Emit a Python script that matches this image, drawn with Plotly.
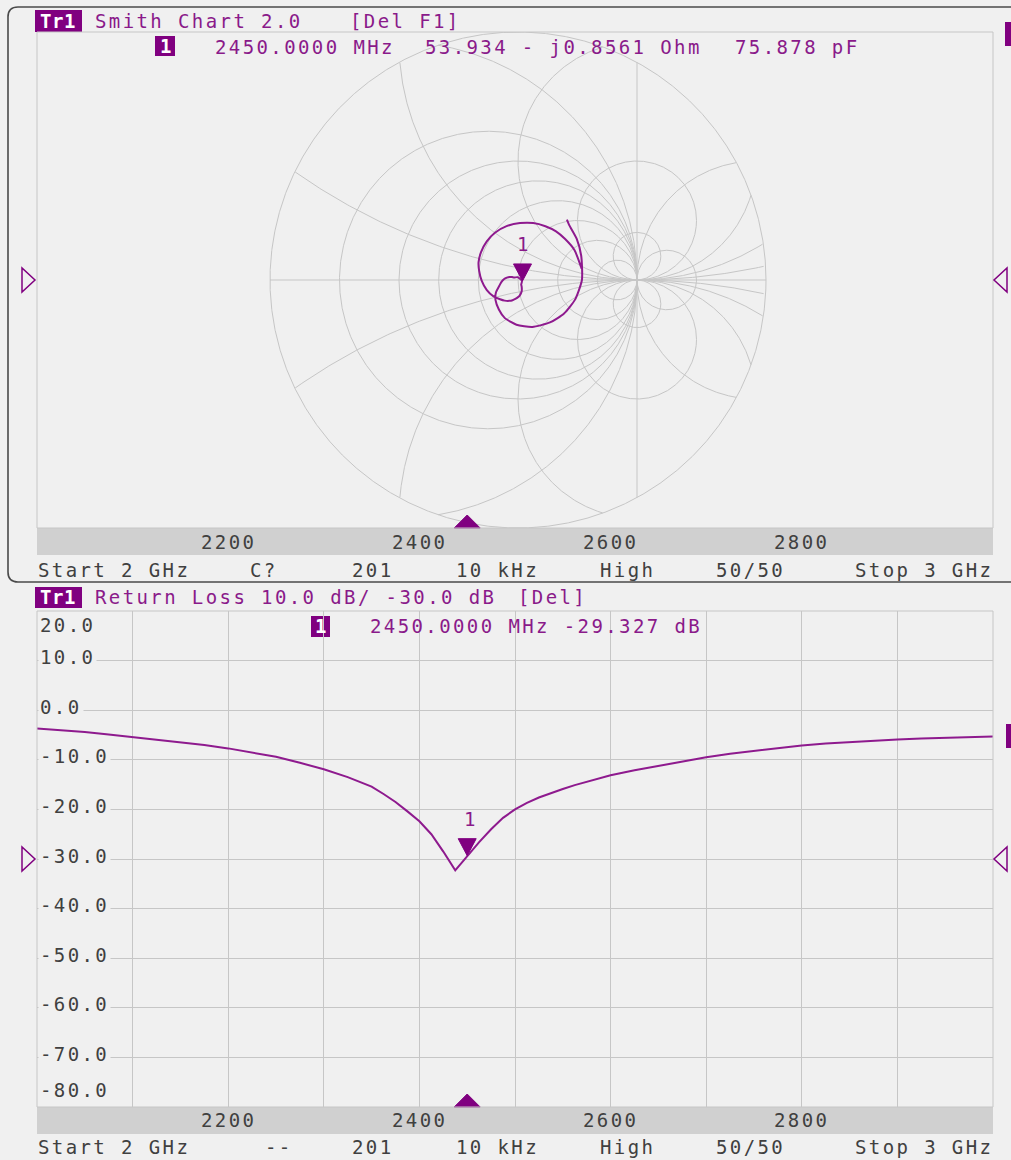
import numpy as np
import plotly.graph_objects as go

W, H = 1011, 1160

# ---------------- S11 trace data (Tr1) ----------------
freq_mhz = [2000, 2025, 2050, 2075, 2100, 2125, 2150, 2175, 2200, 2225, 2250, 2275,
            2300, 2325, 2350,
            2362.5, 2375, 2387.5, 2400, 2412.5, 2425, 2437.5, 2450, 2462.5, 2475,
            2487.5, 2500, 2512.5, 2525, 2537.5, 2550, 2562.5, 2575, 2587.5,
            2600, 2625, 2650, 2675, 2700, 2725, 2750, 2775, 2800, 2825, 2850,
            2875, 2900, 2925, 2950, 2975, 3000]

s11_db = [-3.7, -4.0, -4.4, -4.9, -5.4, -5.9, -6.4, -7.0, -7.7, -8.5, -9.4, -10.6,
          -11.9, -13.5, -15.4,
          -16.9, -18.5, -20.4, -22.4, -25.0, -28.5, -32.3, -29.33, -26.6, -24.0,
          -21.7, -20.0, -18.7, -17.6, -16.7, -15.9, -15.1, -14.4, -13.7,
          -13.1, -12.1, -11.2, -10.3, -9.5, -8.8, -8.2, -7.6, -7.1, -6.7, -6.4,
          -6.1, -5.9, -5.7, -5.6, -5.4, -5.3]

s11_phase_deg = [51, 47, 35, 21, 0, -19, -36, -53, -73, -92, -109, -123,
                 -138, -151, -161,
                 -172, 177, 168, 160, 154, 147, 100, -12, -55, -61,
                 -67, -72, -78, -84, -91, -98, -105, -113, -123,
                 -133, -147, -162, -179, 167, 156, 143, 129, 116, 102, 88,
                 75, 63, 52, 41, 28, 10]

# marker 1 readouts
marker_freq_mhz = 2450.0
marker_r_ohm = 53.934
marker_x_ohm = -0.8561
marker_c_pf = 75.878
marker_db = -29.327
z0_ohm = 50.0

stim_ticks = [2200, 2400, 2600, 2800]
db_ticks = [20, 10, 0, -10, -20, -30, -40, -50, -60, -70, -80]

# Smith grid values
r_circles = [0, 0.2, 0.5, 1, 2, 5, -0.2, -0.5, -2, -5]
x_circles = [0.2, 0.5, 1, 2, 5]

# ---------------- styling / geometry ----------------
BG = "#f0f0f0"
GRID = "#c6c6c6"
BAND = "#d0d0d0"
PURPLE = "#800080"
TRACE = "#8e1a8e"
TXT_P = "#8a1a8a"
TXT_G = "#404040"
FONT = "DejaVu Sans Mono"
FS = 19
LS = 2.4

PX_L, PX_R = 37, 993
TOP_Y0, TOP_Y1 = 32, 528
BOT_Y0, BOT_Y1 = 611, 1107
BAND_H = 27
SMITH_CX, SMITH_CY = 518, 280
SMITH_UNIT = 119.0          # pixels per unit reflection coefficient
R_OUT = (TOP_Y1 - TOP_Y0) / 2 / SMITH_UNIT


def px(x):
    return x / W


def py(y):
    return 1 - y / H


def spaced(s, ls=LS):
    return f'<span style="letter-spacing:{ls}px">{s}</span>'


annotations = []
shapes = []


def text(s, x, y, color, anchor="left", size=FS, bg=None, ls=LS, bold=False):
    a = dict(text=spaced(f"<b>{s}</b>" if bold else s, ls), x=px(x), y=py(y),
             xref="paper", yref="paper", xanchor=anchor, yanchor="middle",
             showarrow=False, font=dict(family=FONT, size=size, color=color))
    if bg:
        a.update(bgcolor=bg, borderpad=1)
    annotations.append(a)


def rect(x0, y0, x1, y1, fill=None, line=None, lw=1):
    shapes.append(dict(type="rect", xref="paper", yref="paper",
                       x0=px(x0), x1=px(x1), y0=py(y1), y1=py(y0),
                       fillcolor=fill or "rgba(0,0,0,0)",
                       line=dict(color=line or "rgba(0,0,0,0)", width=lw if line else 0),
                       layer="below" if fill and not line else "above"))


def poly(points, fill=None, line=None, lw=1.5):
    d = "M " + " L ".join(f"{px(a):.6f},{py(b):.6f}" for a, b in points) + " Z"
    shapes.append(dict(type="path", xref="paper", yref="paper", path=d,
                       fillcolor=fill or "rgba(0,0,0,0)",
                       line=dict(color=line or "rgba(0,0,0,0)", width=lw if line else 0)))


# ---------------- figure ----------------
fig = go.Figure()

# Smith chart grid
gu, gv = [], []


def add_circle(cu, cv, rad, n=1400):
    t = np.linspace(0, 2 * np.pi, n)
    u = cu + rad * np.cos(t)
    v = cv + rad * np.sin(t)
    out = np.hypot(u, v) > R_OUT + 1e-9
    u = u.astype(object)
    v = v.astype(object)
    u[out] = None
    v[out] = None
    gu.extend(list(u) + [None])
    gv.extend(list(v) + [None])


for r in r_circles:
    add_circle(r / (1 + r), 0.0, abs(1 / (1 + r)))
for xv in x_circles:
    add_circle(1.0, 1 / xv, 1 / xv)
    add_circle(1.0, -1 / xv, 1 / xv)
# r = -1 degenerates into the line Re(G) = 1, plus the real axis and outer rim
lim = np.sqrt(R_OUT ** 2 - 1)
gu.extend([1, 1, None, -R_OUT, R_OUT, None])
gv.extend([-lim, lim, None, 0, 0, None])
add_circle(0, 0, R_OUT)

fig.add_trace(go.Scatter(x=gu, y=gv, mode="lines", line=dict(color=GRID, width=1),
                         hoverinfo="skip", xaxis="x", yaxis="y"))

# S11 on the Smith chart
mag = 10 ** (np.array(s11_db) / 20)
ph = np.deg2rad(np.array(s11_phase_deg))
gamma = mag * np.exp(1j * ph)
fig.add_trace(go.Scatter(x=gamma.real, y=gamma.imag, mode="lines",
                         line=dict(color=TRACE, width=2, shape="spline", smoothing=0.6),
                         hoverinfo="skip", xaxis="x", yaxis="y"))

# Return loss trace
fig.add_trace(go.Scatter(x=freq_mhz, y=s11_db, mode="lines",
                         line=dict(color=TRACE, width=2), hoverinfo="skip",
                         xaxis="x2", yaxis="y2"))

# marker 1 positions
zm = complex(marker_r_ohm, marker_x_ohm)
gm = (zm - z0_ohm) / (zm + z0_ohm)
tri_down = "M -9,17 L 9,17 L 0,0 Z"
shapes.append(dict(type="path", xref="x", yref="y", xsizemode="pixel", ysizemode="pixel",
                   xanchor=gm.real, yanchor=gm.imag, path=tri_down,
                   fillcolor=PURPLE, line=dict(color=PURPLE, width=1)))
annotations.append(dict(text="1", x=gm.real, y=gm.imag, xref="x", yref="y",
                        yshift=37, showarrow=False,
                        font=dict(family=FONT, size=FS, color=TXT_P)))
shapes.append(dict(type="path", xref="x2", yref="y2", xsizemode="pixel", ysizemode="pixel",
                   xanchor=marker_freq_mhz, yanchor=marker_db, path=tri_down,
                   fillcolor=PURPLE, line=dict(color=PURPLE, width=1)))
annotations.append(dict(text="1", x=marker_freq_mhz, y=marker_db, xref="x2", yref="y2",
                        yshift=37, xshift=2, showarrow=False,
                        font=dict(family=FONT, size=FS, color=TXT_P)))

# stimulus markers on the frequency bands
tri_up = "M -13,0 L 13,0 L 0,13 Z"
for band_top in (TOP_Y1, BOT_Y1):
    shapes.append(dict(type="path", xref="x2", yref="paper", xsizemode="pixel",
                       ysizemode="pixel", xanchor=marker_freq_mhz, yanchor=py(band_top),
                       path=tri_up, fillcolor=PURPLE, line=dict(color=PURPLE, width=1)))

# plot frames and frequency bands
for y0, y1 in ((TOP_Y0, TOP_Y1), (BOT_Y0, BOT_Y1)):
    rect(PX_L, y1, PX_R, y1 + BAND_H, fill=BAND)
    rect(PX_L, y0, PX_R, y1, line=GRID, lw=1)

# active-channel window outline (rounded)
ox0, oy0, oy1, ox1, rr = 8, 7, 582, 1016, 10
outline = (f"M {px(ox1)},{py(oy0)} L {px(ox0 + rr)},{py(oy0)} "
           f"Q {px(ox0)},{py(oy0)} {px(ox0)},{py(oy0 + rr)} "
           f"L {px(ox0)},{py(oy1 - rr)} Q {px(ox0)},{py(oy1)} {px(ox0 + rr)},{py(oy1)} "
           f"L {px(ox1)},{py(oy1)}")
shapes.append(dict(type="path", xref="paper", yref="paper", path=outline,
                   line=dict(color="#4a4a4a", width=1.6)))

# reference level arrows
for yc in (SMITH_CY, BOT_Y0 + (BOT_Y1 - BOT_Y0) * (20 - (-30)) / 100):
    poly([(22, yc - 12), (22, yc + 12), (35, yc)], line=PURPLE, lw=1.5)
    poly([(1007, yc - 12), (1007, yc + 12), (994, yc)], line=PURPLE, lw=1.5)

# trace scale tabs at the right edge
rect(1005, 22, 1014, 46, fill=PURPLE)
rect(1006, 724, 1014, 748, fill=PURPLE)

# ---------------- text ----------------
# top channel
rect(35, 10, 82, 32, fill=PURPLE)
text("Tr1", 58, 21, "white", anchor="center", bold=True, ls=0.5)
text("Smith Chart 2.0", 93, 21, TXT_P)
text("[Del F1]", 348, 21, TXT_P)
rect(155, 36, 175, 56, fill=PURPLE)
text("1", 165, 46, "white", anchor="center", bold=True, ls=0)
text("2450.0000 MHz", 213, 47, TXT_P)
text("53.934 - j0.8561 Ohm", 423, 47, TXT_P)
text("75.878 pF", 733, 47, TXT_P)

for f in stim_ticks:
    for yb in (TOP_Y1 + 13.5, BOT_Y1 + 12.5):
        annotations.append(dict(text=spaced(str(f)), x=f, y=py(yb), xref="x2",
                                yref="paper", xanchor="center", yanchor="middle",
                                showarrow=False, font=dict(family=FONT, size=FS, color=TXT_G)))

footer_top = [("Start 2 GHz", 36, "left"), ("C?", 264, "center"), ("201", 373, "center"),
              ("10 kHz", 497, "center"), ("High", 627, "center"), ("50/50", 750, "center"),
              ("Stop 3 GHz", 995, "right")]
footer_bot = [("Start 2 GHz", 36, "left"), ("--", 279, "center"), ("201", 373, "center"),
              ("10 kHz", 497, "center"), ("High", 627, "center"), ("50/50", 750, "center"),
              ("Stop 3 GHz", 995, "right")]
for s, x, a in footer_top:
    text(s, x, 570, TXT_G, anchor=a)
for s, x, a in footer_bot:
    text(s, x, 1147, TXT_G, anchor=a)

# bottom channel
rect(35, 587, 82, 608, fill=PURPLE)
text("Tr1", 58, 597, "white", anchor="center", bold=True, ls=0.5)
text("Return Loss 10.0 dB/ -30.0 dB", 93, 597, TXT_P)
text("[Del]", 516, 597, TXT_P)
rect(311, 616, 330, 637, fill=PURPLE)
text("1", 320.5, 626, "white", anchor="center", bold=True, ls=0)
text("2450.0000 MHz -29.327 dB", 368, 626, TXT_P)

# dB scale labels
for v in db_ticks:
    if v == db_ticks[0]:
        yc = BOT_Y0 + 14
    elif v == db_ticks[-1]:
        yc = BOT_Y1 - 17
    else:
        yc = BOT_Y0 + (BOT_Y1 - BOT_Y0) * (20 - v) / 100 - 3.5
    text(f"{v:.1f}", 38, yc, TXT_G, bg=BG)

# ---------------- layout ----------------
fig.update_layout(
    width=W, height=H, margin=dict(l=0, r=0, t=0, b=0),
    paper_bgcolor=BG, plot_bgcolor=BG, showlegend=False, hovermode=False,
    xaxis=dict(domain=[px(PX_L), px(PX_R)],
               range=[(PX_L - SMITH_CX) / SMITH_UNIT, (PX_R - SMITH_CX) / SMITH_UNIT],
               visible=False, fixedrange=True),
    yaxis=dict(domain=[py(TOP_Y1), py(TOP_Y0)],
               range=[(SMITH_CY - TOP_Y1) / SMITH_UNIT, (SMITH_CY - TOP_Y0) / SMITH_UNIT],
               visible=False, fixedrange=True),
    xaxis2=dict(domain=[px(PX_L), px(PX_R)], range=[2000, 3000], anchor="y2",
                showgrid=True, gridcolor=GRID, gridwidth=1, tick0=2000, dtick=100,
                showticklabels=False, ticks="", zeroline=False, showline=False,
                fixedrange=True),
    yaxis2=dict(domain=[py(BOT_Y1), py(BOT_Y0)], range=[-80, 20], anchor="x2",
                showgrid=True, gridcolor=GRID, gridwidth=1, tick0=0, dtick=10,
                showticklabels=False, ticks="", zeroline=False, showline=False,
                fixedrange=True),
    shapes=shapes,
    annotations=annotations,
)

fig.write_html("out.html")
